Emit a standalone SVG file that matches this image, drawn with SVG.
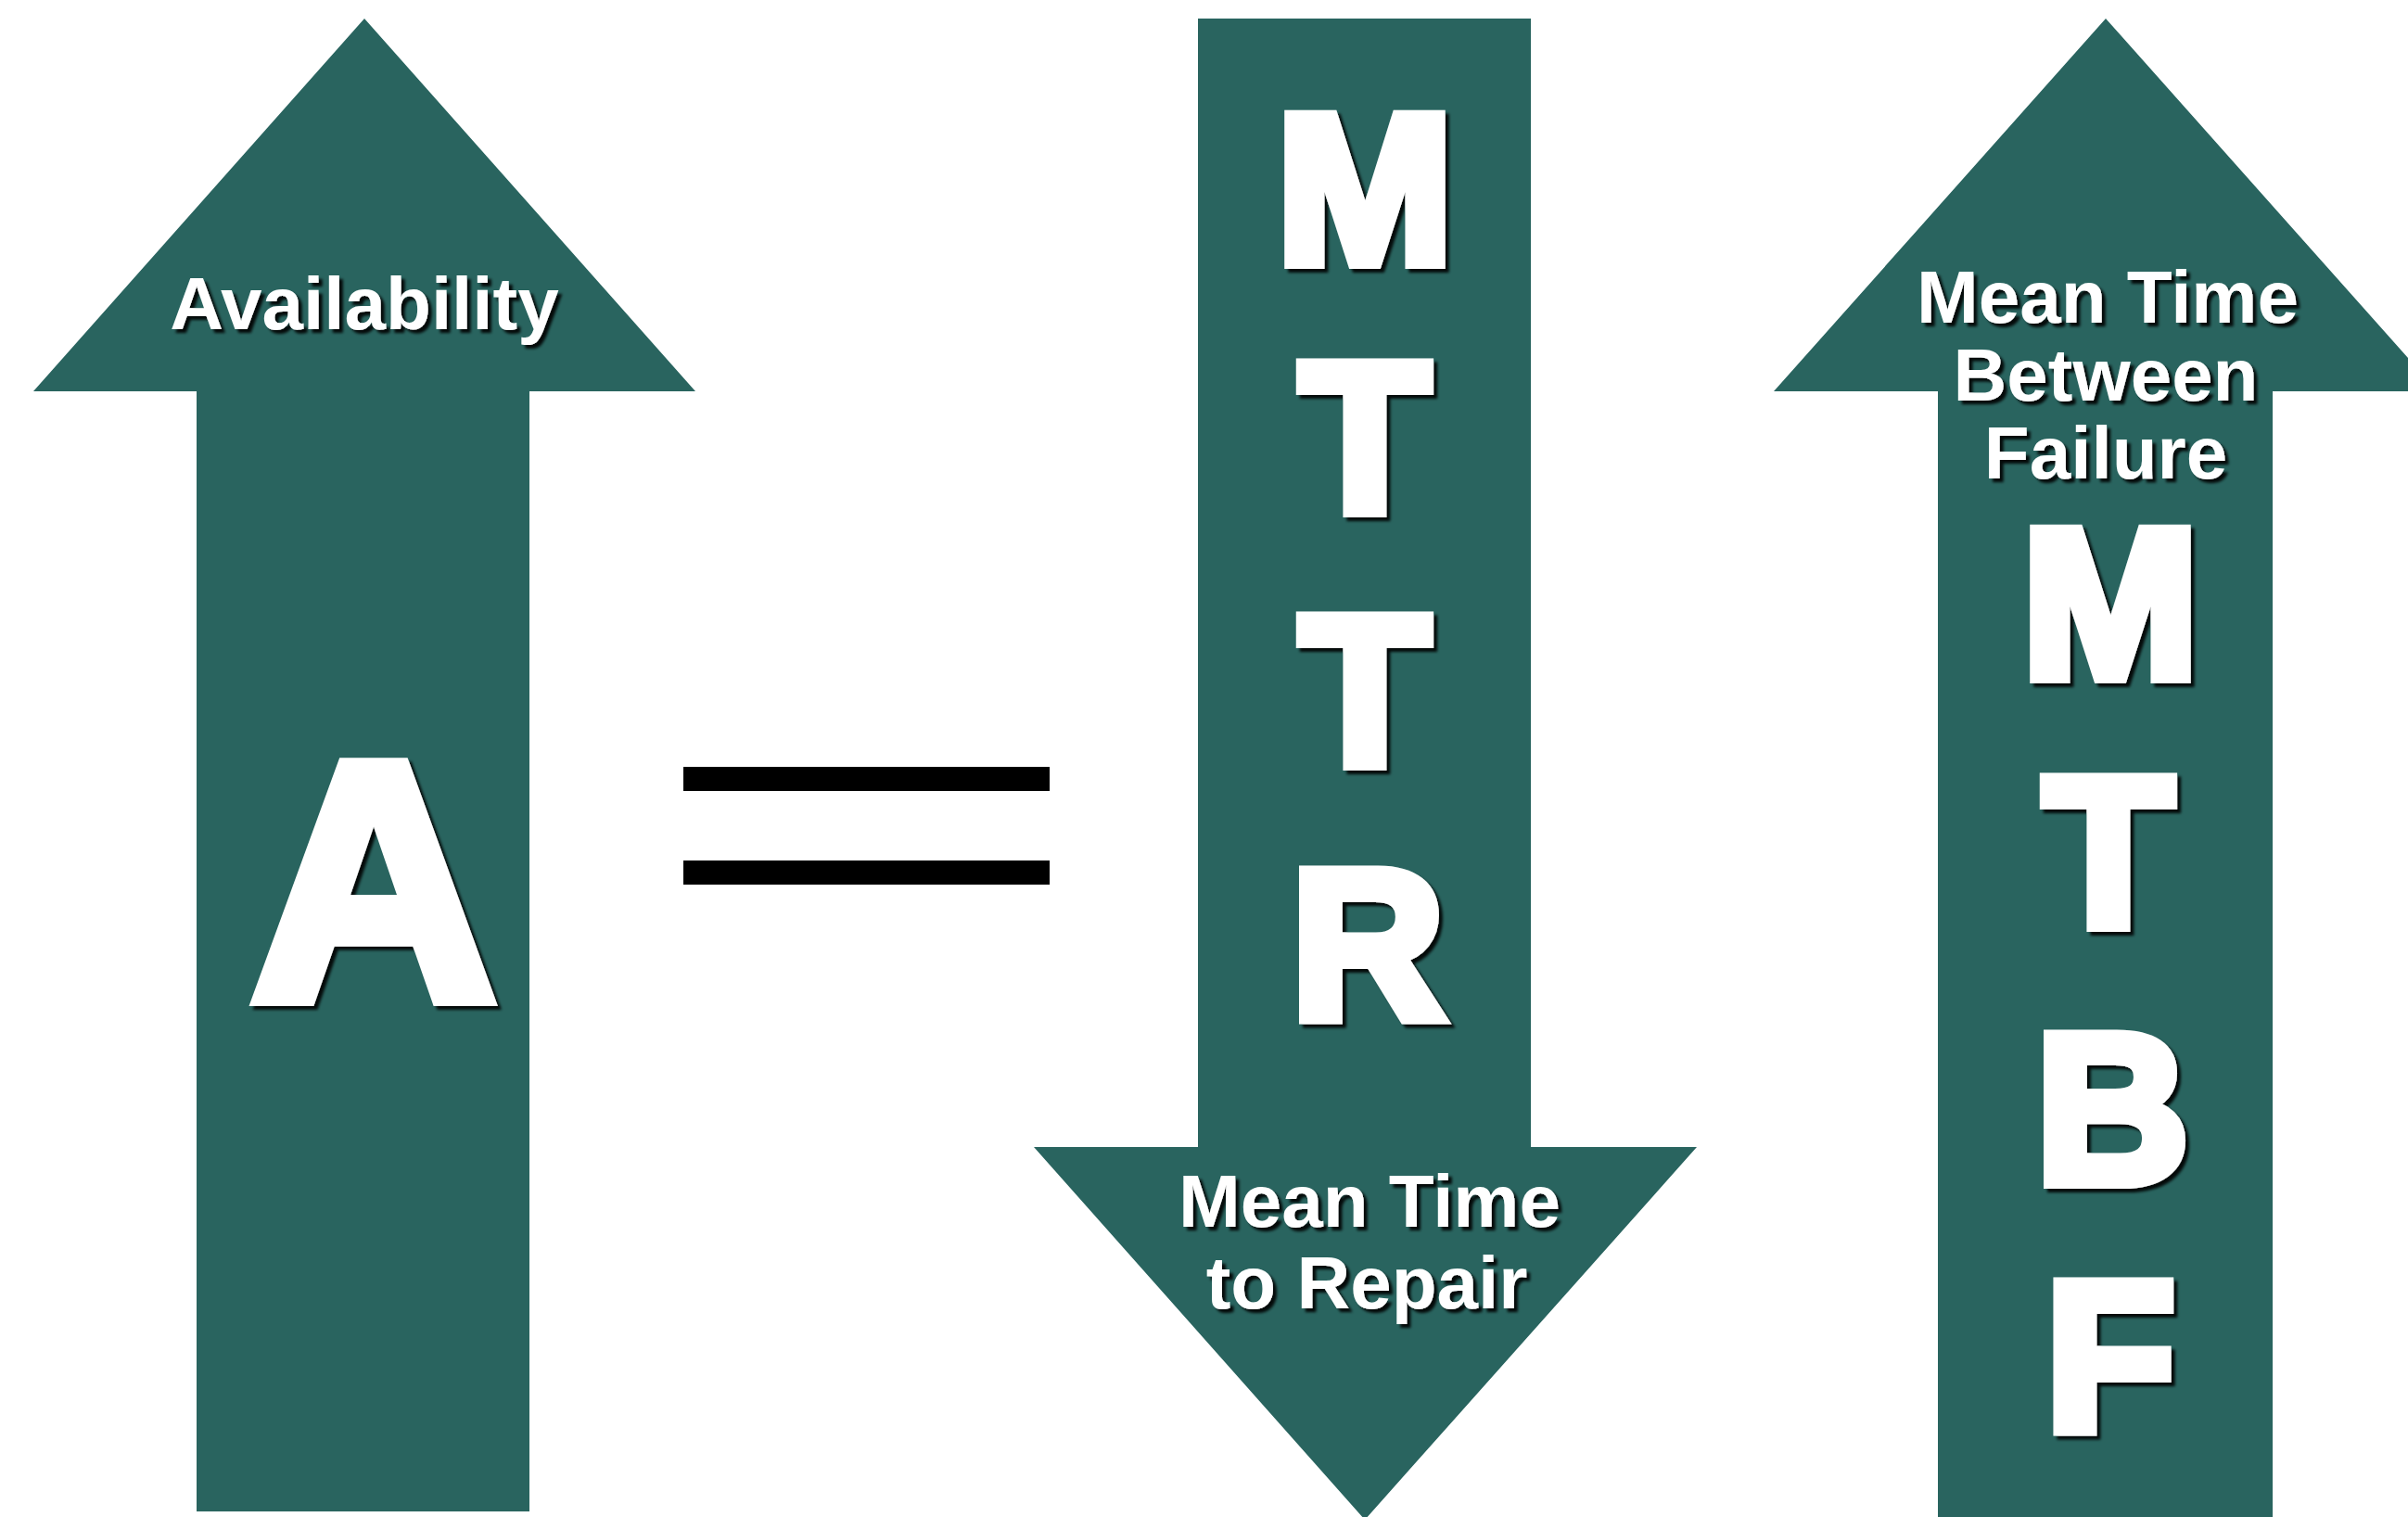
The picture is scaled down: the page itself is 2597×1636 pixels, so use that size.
<svg xmlns="http://www.w3.org/2000/svg" width="2597" height="1636" viewBox="0 0 2597 1636">
<defs>
<filter id="sh" x="-20%" y="-20%" width="140%" height="140%">
<feDropShadow dx="4" dy="4" stdDeviation="1.5" flood-color="#000" flood-opacity="0.9"/>
</filter>
<style>
.arrow{fill:#29645f}
.big{font-family:"Liberation Sans",Arial,sans-serif;font-weight:bold;fill:#fff;stroke:#fff;stroke-linejoin:miter;text-anchor:middle;filter:url(#sh)}
.lbl{font-family:"Liberation Sans",Arial,sans-serif;font-weight:bold;fill:#fff;text-anchor:middle;font-size:80px;filter:url(#sh)}
</style>
</defs>
<rect width="2597" height="1636" fill="#fff"/>
<g id="availability">
<polygon class="arrow" points="393,20 750,422 571,422 571,1630 212,1630 212,422 36,422"/>
<text class="lbl" x="393" y="355" font-size="81">Availability</text>
<text class="big" x="403" y="1077" font-size="366" stroke-width="16">A</text>
</g>
<g id="equals">
<rect x="737" y="827" width="395" height="26" fill="#000"/>
<rect x="737" y="928" width="395" height="26" fill="#000"/>
</g>
<g id="mttr">
<polygon class="arrow" points="1292,20 1651,20 1651,1237 1830,1237 1472,1639 1115,1237 1292,1237"/>
<text class="big" x="1472" y="283" font-size="228" stroke-width="14">M</text>
<text class="big" x="1472" y="551" font-size="228" stroke-width="14">T</text>
<text class="big" x="1472" y="824" font-size="228" stroke-width="14">T</text>
<text class="big" x="1475" y="1098" font-size="228" stroke-width="14">R</text>
<text class="lbl" x="1477" y="1323"><tspan x="1477" y="1323">Mean Time</tspan><tspan x="1474" y="1411">to Repair</tspan></text>
</g>
<g id="mtbf">
<polygon class="arrow" points="2271,20 2629,422 2451,422 2451,1636 2090,1636 2090,422 1913,422"/>
<text class="lbl" x="2273" y="348"><tspan x="2273" y="348">Mean Time</tspan><tspan x="2271" y="432">Between</tspan><tspan x="2271" y="516">Failure</tspan></text>
<text class="big" x="2276" y="730" font-size="228" stroke-width="14">M</text>
<text class="big" x="2274" y="998" font-size="228" stroke-width="14">T</text>
<text class="big" x="2278" y="1275" font-size="228" stroke-width="14">B</text>
<text class="big" x="2276" y="1542" font-size="228" stroke-width="14">F</text>
</g>
<g id="connectors"></g>
</svg>
